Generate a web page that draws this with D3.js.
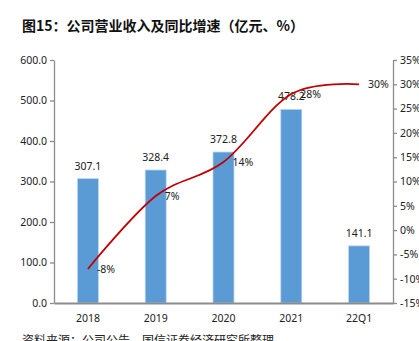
<!DOCTYPE html>
<html><head><meta charset="utf-8">
<script src="https://cdn.jsdelivr.net/npm/d3@7"></script>
<style>body{margin:0;background:#fff;}svg{display:block;}svg text{font-family:"Noto Sans","Noto Sans CJK SC",sans-serif;}</style>
</head><body><svg id="c" width="419" height="341"></svg>
<script>
const categories = ["2018","2019","2020","2021","22Q1"];
const revenue = [307.1, 328.4, 372.8, 478.2, 141.1];
const growth = [-8, 7, 14, 28, 30];
const leftTicks = [0,100,200,300,400,500,600];
const rightTicks = [-15,-10,-5,0,5,10,15,20,25,30,35];

const svg = d3.select("#c");
const m = {l:54, r:393, t:60, b:303};
const x = d3.scaleBand().domain(categories).range([m.l, m.r]).paddingInner(0.69).paddingOuter(0.345);
const yL = d3.scaleLinear().domain([0,600]).range([m.b, m.t]);
const yR = d3.scaleLinear().domain([-15,35]).range([m.b, m.t]);
const cx = d => x(d) + x.bandwidth()/2;

svg.append("text").attr("x",22).attr("y",31).attr("font-size",14).attr("font-weight","bold")
  .style("font-family","'Noto Sans CJK SC',sans-serif")
  .attr("fill","#111").text("图15：公司营业收入及同比增速（亿元、%）");

// bars
svg.selectAll("rect.bar").data(categories).enter().append("rect")
  .attr("x", d=>x(d)).attr("width", x.bandwidth())
  .attr("y", (d,i)=>yL(revenue[i])).attr("height",(d,i)=>m.b - yL(revenue[i]))
  .attr("fill","#5B9BD5").attr("stroke","#BDD7EE").attr("stroke-width",0.8);

svg.selectAll("text.bl").data(categories).enter().append("text")
  .attr("x", d=>cx(d)).attr("y",(d,i)=>yL(revenue[i])-9).attr("text-anchor","middle")
  .attr("font-size",10.5).attr("fill","#222").text((d,i)=>revenue[i].toFixed(1));

// left axis
const gL = svg.append("g").attr("transform",`translate(${m.l},0)`)
  .call(d3.axisLeft(yL).tickValues(leftTicks).tickFormat(d=>d.toFixed(1)).tickSize(4).tickSizeOuter(0));
// right axis
const gR = svg.append("g").attr("transform",`translate(${m.r},0)`)
  .call(d3.axisRight(yR).tickValues(rightTicks).tickFormat(d=>d+"%").tickSize(4).tickSizeOuter(0));
// bottom axis
const gB = svg.append("g").attr("transform",`translate(0,${m.b})`)
  .call(d3.axisBottom(x).tickSize(0).tickSizeOuter(0));
[gL,gR,gB].forEach(g=>{
  g.attr("font-family",null);
  g.selectAll("path,line").attr("stroke","#8c8c8c").attr("stroke-width",1.3);
  g.selectAll("text").attr("font-size",10.5).attr("fill","#222");
});
gB.selectAll("text").attr("dy","1.5em");
gB.select("path").attr("stroke-width",2);

// line
const line = d3.line().x((d,i)=>cx(categories[i])).y(d=>yR(d)).curve(d3.curveCardinal.tension(0));
svg.append("path").attr("d", line(growth)).attr("fill","none").attr("stroke","#C00000").attr("stroke-width",1.8);

svg.selectAll("text.gl").data(growth).enter().append("text")
  .attr("x",(d,i)=>cx(categories[i])+9).attr("y",(d,i)=>yR(d)+4)
  .attr("font-size",10.5).attr("fill","#222").text(d=>d+"%");

svg.append("text").attr("x",22).attr("y",345).attr("font-size",12).attr("fill","#222")
  .style("font-family","'Noto Sans CJK SC',sans-serif")
  .text("资料来源：公司公告、国信证券经济研究所整理");
</script></body></html>
